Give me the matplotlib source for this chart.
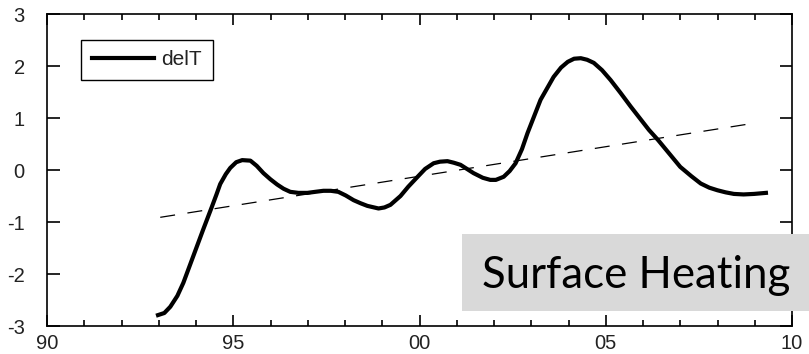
import numpy as np
import matplotlib
matplotlib.use("Agg")
import matplotlib.pyplot as plt
from matplotlib.patches import Rectangle

plt.rcParams["axes.unicode_minus"] = False

# delT curve (year, value)
years = [92.98, 93.15, 93.31, 93.5, 93.66, 93.92, 94.19, 94.43, 94.55, 94.65,
         94.8, 94.92, 95.08, 95.24, 95.46, 95.63, 95.81, 96.0, 96.18, 96.35,
         96.53, 96.75, 96.99, 97.2, 97.42, 97.62, 97.82, 98.02, 98.23, 98.42,
         98.6, 98.9, 99.06, 99.22, 99.49, 99.7, 99.95, 100.15, 100.38, 100.55,
         100.75, 100.92, 101.1, 101.45, 101.7, 101.9, 102.05, 102.26, 102.42, 102.58,
         102.75, 102.9, 103.25, 103.6, 103.8, 103.98, 104.15, 104.33, 104.5, 104.68,
         104.9, 105.13, 105.4, 105.67, 106.16, 106.4, 106.7, 107.0, 107.3, 107.55,
         107.78, 108.0, 108.22, 108.44, 108.7, 108.98, 109.3]
delT = [-2.79, -2.75, -2.63, -2.42, -2.17, -1.67, -1.15, -0.70, -0.47, -0.27,
        -0.08, 0.04, 0.15, 0.19, 0.18, 0.08, -0.06, -0.18, -0.28, -0.36,
        -0.42, -0.44, -0.44, -0.42, -0.40, -0.40, -0.42, -0.49, -0.58, -0.64,
        -0.69, -0.74, -0.72, -0.67, -0.50, -0.32, -0.13, 0.02, 0.13, 0.16,
        0.17, 0.14, 0.10, -0.06, -0.15, -0.19, -0.19, -0.13, -0.02, 0.13,
        0.40, 0.71, 1.35, 1.79, 1.97, 2.08, 2.14, 2.15, 2.12, 2.06,
        1.92, 1.73, 1.48, 1.22, 0.77, 0.58, 0.32, 0.06, -0.12, -0.26,
        -0.34, -0.39, -0.43, -0.46, -0.47, -0.46, -0.44]

# linear trend (dashed)
trend_x = [93.04, 108.98]
trend_y = [-0.91, 0.90]

xticks = [90, 95, 100, 105, 110]
xlabels = ["90", "95", "00", "05", "10"]
yticks = [-3, -2, -1, 0, 1, 2, 3]

fig = plt.figure(figsize=(8.09, 3.54), dpi=100)
ax = fig.add_axes([47/809, 28/354, 745/809, 312/354])

ax.plot(years, delT, color="black", lw=3.0, label="delT", solid_joinstyle="round")
ax.plot(trend_x, trend_y, color="black", lw=0.9, dashes=(12, 10))

ax.set_xlim(90, 110)
ax.set_ylim(-3, 3)
ax.set_xticks(xticks)
ax.set_xticklabels(xlabels)
ax.set_xticks(np.arange(90, 111, 1), minor=True)
ax.set_yticks(yticks)

for lab in ax.get_xticklabels() + ax.get_yticklabels():
    lab.set_fontfamily("Liberation Sans")
    lab.set_fontsize(14.5)
    lab.set_color("#222222")

ax.tick_params(axis="both", which="both", direction="in", top=True, right=True,
               color="black", width=1.2)
ax.tick_params(axis="x", which="major", length=8, pad=6)
ax.tick_params(axis="x", which="minor", length=4.5)
ax.tick_params(axis="y", which="major", length=9, pad=16)
for s in ax.spines.values():
    s.set_linewidth(1.2)

leg = ax.legend(loc="upper left", bbox_to_anchor=(0.046, 0.917), borderaxespad=0,
                fancybox=False, framealpha=1, edgecolor="black",
                prop=dict(family="Liberation Sans", size=15),
                handlelength=3.0, handletextpad=0.35, borderpad=0.5)
leg.get_frame().set_linewidth(1.0)
for t in leg.get_texts():
    t.set_color("#222222")

# grey "Surface Heating" label box
fig.patches.append(Rectangle((462/809, (354-311)/354), 347/809, 77/354,
                             transform=fig.transFigure, facecolor="#d9d9d9",
                             edgecolor="none", zorder=5))
fig.text(482/809, (354-288)/354, "Surface Heating", fontsize=31.5, family="Lato",
         ha="left", va="baseline", color="black", zorder=6)

fig.savefig("out.png", dpi=100)
